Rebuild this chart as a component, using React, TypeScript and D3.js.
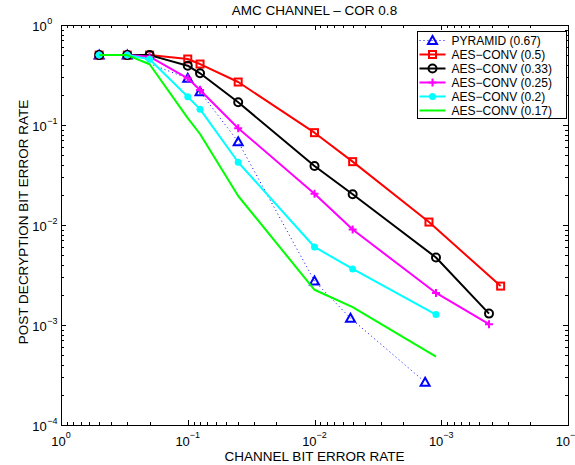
import React, { useRef, useEffect } from 'react';
import * as d3 from 'd3';

// channel BER (x) and post-decryption BER (y)
const pyramidX = [0.5, 0.3, 0.1, 0.08, 0.04, 0.01, 0.0052, 0.00134];
const pyramidY = [0.5, 0.5, 0.293, 0.215, 0.068, 0.00275, 0.00117, 0.000268];

const conv50X = [0.5, 0.3, 0.2, 0.1, 0.08, 0.04, 0.01, 0.005, 0.00125, 0.00034];
const conv50Y = [0.5, 0.5, 0.5, 0.457, 0.407, 0.269, 0.0838, 0.043, 0.0107, 0.00245];

const conv33X = [0.5, 0.3, 0.2, 0.1, 0.08, 0.04, 0.01, 0.005, 0.0011, 0.00042];
const conv33Y = [0.5, 0.5, 0.5, 0.392, 0.329, 0.169, 0.0389, 0.0203, 0.00473, 0.0013];

const conv25X = [0.5, 0.3, 0.2, 0.1, 0.08, 0.04, 0.01, 0.005, 0.0011, 0.00042];
const conv25Y = [0.5, 0.5, 0.482, 0.293, 0.224, 0.0929, 0.0205, 0.009, 0.00209, 0.00102];

const conv20X = [0.5, 0.3, 0.2, 0.1, 0.08, 0.04, 0.01, 0.005, 0.0011];
const conv20Y = [0.5, 0.5, 0.454, 0.192, 0.144, 0.0424, 0.00603, 0.00364, 0.00127];

const conv17X = [0.5, 0.3, 0.2, 0.1, 0.08, 0.04, 0.01, 0.005, 0.0011];
const conv17Y = [0.5, 0.5, 0.405, 0.117, 0.0813, 0.0195, 0.00225, 0.00151, 0.000483];

const seriesNames = [
  'PYRAMID (0.67)',
  'AES\u2212CONV (0.5)',
  'AES\u2212CONV (0.33)',
  'AES\u2212CONV (0.25)',
  'AES\u2212CONV (0.2)',
  'AES\u2212CONV (0.17)',
];

const decadeExps = [0, -1, -2, -3, -4];

const W = 575;
const H = 465;
const FONT = '"Liberation Sans", Arial, sans-serif';

type Marker = 'triangle' | 'square' | 'circle' | 'plus' | 'dot' | 'none';

const App = () => {
  const ref = useRef<SVGSVGElement>(null);

  useEffect(() => {
    const svg = d3.select(ref.current);
    svg.selectAll('*').remove();

    const margin = { top: 25, left: 61, right: 7, bottom: 40 };
    const x0 = margin.left;
    const x1 = W - margin.right;
    const y0 = margin.top;
    const y1 = H - margin.bottom;

    const x = d3.scaleLog().domain([1, 1e-4]).range([x0, x1]);
    const y = d3.scaleLog().domain([1e-4, 1]).range([y1, y0]);

    const series = [
      { xs: pyramidX, ys: pyramidY, color: '#0000ff', width: 1, dash: '1,3', marker: 'triangle' as Marker },
      { xs: conv50X, ys: conv50Y, color: '#ff0000', width: 2, dash: null, marker: 'square' as Marker },
      { xs: conv33X, ys: conv33Y, color: '#000000', width: 2, dash: null, marker: 'circle' as Marker },
      { xs: conv25X, ys: conv25Y, color: '#ff00ff', width: 2, dash: null, marker: 'plus' as Marker },
      { xs: conv20X, ys: conv20Y, color: '#00ffff', width: 2, dash: null, marker: 'dot' as Marker },
      { xs: conv17X, ys: conv17Y, color: '#00ff00', width: 2, dash: null, marker: 'none' as Marker },
    ];

    svg.append('rect').attr('width', W).attr('height', H).attr('fill', '#fff');

    // ticks (inside, all four sides), major + minor
    const ticks = svg.append('g').attr('stroke', '#000').attr('stroke-width', 1);
    const minors: number[] = [];
    for (let e = -4; e < 0; e++) {
      for (let m = 2; m <= 9; m++) minors.push(m * Math.pow(10, e));
    }
    const majors = decadeExps.map(e => Math.pow(10, e));
    const addTicks = (vals: number[], len: number) => {
      vals.forEach(v => {
        const px = Math.round(x(v)) + 0.5;
        ticks.append('line').attr('x1', px).attr('x2', px).attr('y1', y1).attr('y2', y1 - len);
        ticks.append('line').attr('x1', px).attr('x2', px).attr('y1', y0).attr('y2', y0 + len);
        const py = Math.round(y(v)) + 0.5;
        ticks.append('line').attr('x1', x0).attr('x2', x0 + len).attr('y1', py).attr('y2', py);
        ticks.append('line').attr('x1', x1).attr('x2', x1 - len).attr('y1', py).attr('y2', py);
      });
    };
    addTicks(majors, 5);
    addTicks(minors, 3);

    // frame
    svg.append('rect')
      .attr('x', x0 + 0.5).attr('y', y0 + 0.5)
      .attr('width', x1 - x0).attr('height', y1 - y0)
      .attr('fill', 'none').attr('stroke', '#000').attr('stroke-width', 1);

    // tick labels
    const labels = svg.append('g').style('font-family', FONT).attr('fill', '#000');
    decadeExps.forEach(e => {
      const v = Math.pow(10, e);
      const exp = e === 0 ? '0' : '\u2212' + Math.abs(e);
      const t = labels.append('text').attr('x', x(v)).attr('y', y1 + 21)
        .attr('text-anchor', 'middle').style('font-size', '13px');
      t.append('tspan').text('10');
      t.append('tspan').attr('dy', -8.5).style('font-size', '9px').text(exp);

      const py = y(v);
      labels.append('text').attr('x', 46.7).attr('y', py + 5.5)
        .attr('text-anchor', 'end').style('font-size', '13px').text('10');
      labels.append('text').attr('x', 47.3).attr('y', py - 1)
        .style('font-size', '9px').text(exp);
    });

    // axis titles
    labels.append('text').attr('x', (x0 + x1) / 2).attr('y', 15)
      .attr('text-anchor', 'middle').style('font-size', '13.5px')
      .text('AMC CHANNEL \u2013 COR 0.8');
    labels.append('text').attr('x', (x0 + x1) / 2).attr('y', 461)
      .attr('text-anchor', 'middle').style('font-size', '13.5px')
      .text('CHANNEL BIT ERROR RATE');
    labels.append('text')
      .attr('transform', `translate(27.5, 222) rotate(-90)`)
      .attr('text-anchor', 'middle').style('font-size', '13.5px')
      .text('POST DECRYPTION BIT ERROR RATE');

    const drawMarker = (g: any, kind: Marker, cx: number, cy: number, color: string) => {
      if (kind === 'triangle') {
        g.append('path')
          .attr('d', `M${cx},${cy - 4.5}L${cx + 4.5},${cy + 3.5}L${cx - 4.5},${cy + 3.5}Z`)
          .attr('fill', 'none').attr('stroke', color).attr('stroke-width', 2);
      } else if (kind === 'square') {
        g.append('rect').attr('x', cx - 3.5).attr('y', cy - 3.5).attr('width', 7).attr('height', 7)
          .attr('fill', 'none').attr('stroke', color).attr('stroke-width', 2);
      } else if (kind === 'circle') {
        g.append('circle').attr('cx', cx).attr('cy', cy).attr('r', 4)
          .attr('fill', 'none').attr('stroke', color).attr('stroke-width', 2);
      } else if (kind === 'plus') {
        g.append('path').attr('d', `M${cx - 4},${cy}H${cx + 4}M${cx},${cy - 4}V${cy + 4}`)
          .attr('stroke', color).attr('stroke-width', 2);
      } else if (kind === 'dot') {
        g.append('circle').attr('cx', cx).attr('cy', cy).attr('r', 3.5).attr('fill', color);
      }
    };

    const line = d3.line<[number, number]>().x(d => x(d[0])).y(d => y(d[1]));

    // series
    series.forEach(s => {
      const pts: [number, number][] = s.xs.map((v, i) => [v, s.ys[i]]);
      const g = svg.append('g');
      g.append('path').attr('d', line(pts))
        .attr('fill', 'none').attr('stroke', s.color)
        .attr('stroke-width', s.width)
        .attr('stroke-dasharray', s.dash)
        .attr('stroke-linejoin', 'round');
      pts.forEach(p => drawMarker(g, s.marker, x(p[0]), y(p[1]), s.color));
    });

    // legend
    const lg = svg.append('g').attr('transform', 'translate(417.5, 31.5)');
    lg.append('rect').attr('width', 149).attr('height', 87)
      .attr('fill', '#fff').attr('stroke', '#000').attr('stroke-width', 1);
    series.forEach((s, i) => {
      const ly = 9 + i * 14;
      lg.append('line').attr('x1', 2).attr('x2', 28).attr('y1', ly).attr('y2', ly)
        .attr('stroke', s.color).attr('stroke-width', s.width)
        .attr('stroke-dasharray', s.dash);
      drawMarker(lg, s.marker, 15, ly, s.color);
      lg.append('text').attr('x', 34).attr('y', ly + 4.5)
        .style('font-family', FONT).style('font-size', '12px')
        .text(seriesNames[i]);
    });
  }, []);

  return (
    <svg ref={ref} width={W} height={H}
      style={{ position: 'absolute', left: 0, top: 0, display: 'block' }} />
  );
};

export default App;
